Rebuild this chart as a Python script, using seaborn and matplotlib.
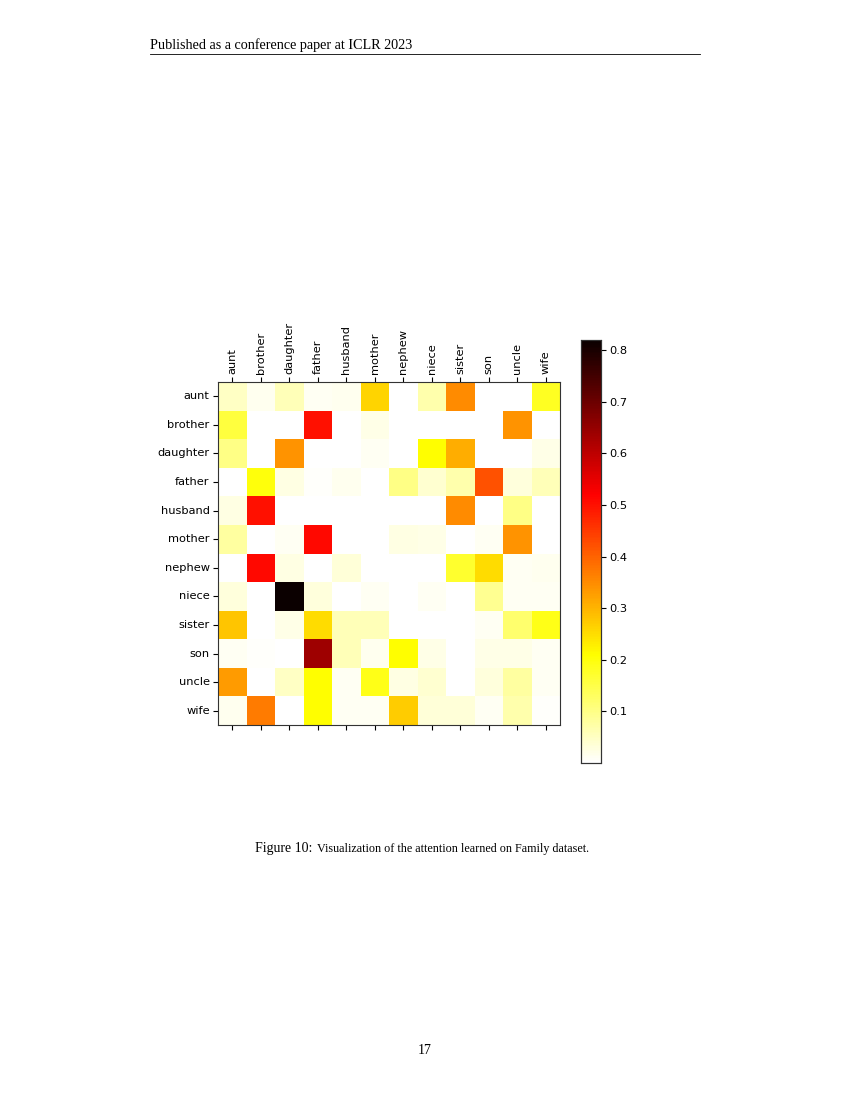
import matplotlib
matplotlib.use("Agg")
import matplotlib.pyplot as plt
import seaborn as sns
import numpy as np
import pandas as pd

# Relationen (Zeilen = Kopf, Spalten = Körper)
relations = ['aunt', 'brother', 'daughter', 'father', 'husband', 'mother',
             'nephew', 'niece', 'sister', 'son', 'uncle', 'wife']

# Attention-Werte pro Zeile
aunt     = [0.05, 0.015, 0.06, 0.01, 0.015, 0.26, 0.0, 0.07, 0.35, 0.0, 0.0, 0.18]
brother  = [0.16, 0.0, 0.0, 0.50, 0.0, 0.02, 0.0, 0.0, 0.0, 0.0, 0.34, 0.0]
daughter = [0.10, 0.0, 0.34, 0.0, 0.0, 0.01, 0.0, 0.21, 0.31, 0.0, 0.0, 0.02]
father   = [0.0, 0.20, 0.025, 0.005, 0.015, 0.0, 0.10, 0.04, 0.07, 0.42, 0.03, 0.06]
husband  = [0.025, 0.50, 0.0, 0.0, 0.0, 0.0, 0.0, 0.0, 0.35, 0.0, 0.10, 0.0]
mother   = [0.08, 0.0, 0.01, 0.51, 0.0, 0.0, 0.025, 0.02, 0.0, 0.01, 0.34, 0.0]
nephew   = [0.0, 0.51, 0.025, 0.0, 0.035, 0.0, 0.0, 0.0, 0.17, 0.25, 0.01, 0.015]
niece    = [0.03, 0.0, 0.82, 0.03, 0.0, 0.01, 0.0, 0.01, 0.0, 0.09, 0.01, 0.01]
sister   = [0.28, 0.0, 0.02, 0.25, 0.06, 0.06, 0.0, 0.0, 0.0, 0.01, 0.12, 0.19]
son      = [0.01, 0.005, 0.0, 0.64, 0.06, 0.015, 0.21, 0.02, 0.0, 0.02, 0.02, 0.01]
uncle    = [0.33, 0.0, 0.05, 0.21, 0.01, 0.19, 0.025, 0.04, 0.0, 0.03, 0.08, 0.01]
wife     = [0.015, 0.37, 0.0, 0.21, 0.01, 0.01, 0.27, 0.035, 0.035, 0.01, 0.07, 0.005]

rows = [aunt, brother, daughter, father, husband, mother,
        nephew, niece, sister, son, uncle, wife]
df = pd.DataFrame(rows, index=relations, columns=relations)

fig = plt.figure(figsize=(8.5, 11), dpi=100)
ax = fig.add_axes([0.2565, 0.3409, 0.4024, 0.3118])
cax = fig.add_axes([0.6835, 0.3064, 0.0235, 0.3845])

sns.heatmap(df, ax=ax, cbar_ax=cax, cmap="hot_r", vmin=0.0, vmax=0.82,
            square=False, linewidths=0)

# Rahmen wie bei imshow
for s in ax.spines.values():
    s.set_visible(True)
    s.set_color('#333333')
    s.set_linewidth(0.8)
ax.tick_params(top=True, bottom=True, left=True, labeltop=True,
               labelbottom=False, length=3.5, width=0.8, labelsize=8.2, pad=2.5)
ax.set_xticklabels(relations, rotation=90)
ax.set_yticklabels(relations, rotation=0)
ax.set_xlabel('')
ax.set_ylabel('')

cax.set_yticks([0.1, 0.2, 0.3, 0.4, 0.5, 0.6, 0.7, 0.8])
cax.tick_params(labelsize=8.2, length=3.5, width=0.8, pad=2.5)
for s in cax.spines.values():
    s.set_visible(True)
    s.set_color('#333333')
    s.set_linewidth(0.8)

# Seitenelemente des Papers
fig.text(150 / 850, 1 - 45 / 1100, 'Published as a conference paper at ICLR 2023',
         family='Liberation Serif', fontsize=10.2, va='center', ha='left')
fig.add_artist(plt.Line2D([150 / 850, 700 / 850], [1 - 54 / 1100, 1 - 54 / 1100],
                          color='black', linewidth=0.6))
cap = fig.text(255 / 850, 1 - 852 / 1100, 'Figure 10:',
               family='Liberation Serif', fontsize=10, va='baseline', ha='left')
ax.annotate('Visualization of the attention learned on Family dataset.',
            xy=(1, 0), xycoords=cap, xytext=(3.5, 0), textcoords='offset points',
            family='Liberation Serif', fontsize=8.7, va='bottom', ha='left',
            annotation_clip=False)
fig.text(0.5, 1 - 1050 / 1100, '17', family='Liberation Serif', fontsize=10,
         va='center', ha='center')

fig.savefig('out.png', dpi=100)
